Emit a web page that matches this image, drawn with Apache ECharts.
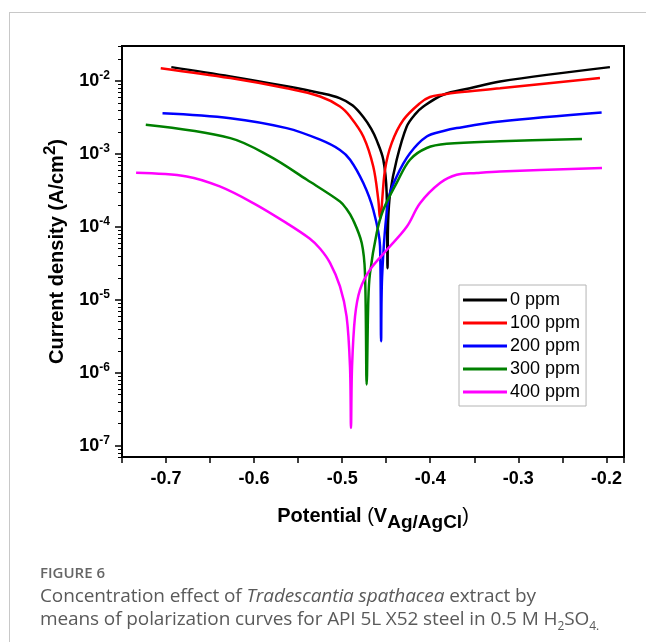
<!DOCTYPE html>
<html>
<head>
<meta charset="utf-8">
<script src="https://cdn.jsdelivr.net/npm/echarts@6/dist/echarts.min.js"></script>
<style>
  body { margin: 0; background: #fff; }
  #card { position: absolute; left: 9px; top: 12px; width: 660px; height: 660px;
          border-top: 1px solid #c8c8c8; border-left: 1px solid #c8c8c8; }
  #chart { position: absolute; left: 0; top: 0; width: 646px; height: 642px; }
  .cap { position: absolute; left: 40px; font-family: "Open Sans", sans-serif; color: #5a5a5a; }
  #fig { top: 562px; font-size: 15px; font-weight: 600; color: #666; }
  #txt { top: 584px; font-size: 19px; line-height: 23px; width: 610px; letter-spacing: -0.1px; }
</style>
</head>
<body>
<div id="card"></div>
<div id="chart"></div>
<div class="cap" id="fig">FIGURE 6</div>
<div class="cap" id="txt">Concentration effect of <i>Tradescantia spathacea</i> extract by<br>means of polarization curves for API 5L X52 steel in 0.5 M H<sub style="font-size:12px">2</sub>SO<sub style="font-size:12px">4.</sub></div>
<script>
// polarization curves: potential (V vs Ag/AgCl) and current density (A/cm2)
const names = ['0 ppm', '100 ppm', '200 ppm', '300 ppm', '400 ppm'];
const colors = ['#000000', '#ff0000', '#0000ff', '#008000', '#ff00ff'];

const e0 = [-0.694, -0.627, -0.563, -0.525, -0.503, -0.488, -0.476, -0.467, -0.461, -0.4533, -0.4495, -0.4485, -0.4478, -0.4455, -0.4381, -0.4267, -0.4170, -0.4078, -0.3852, -0.3549, -0.3208, -0.196];
const i0 = [1.54e-2, 1.15e-2, 8.4e-3, 6.8e-3, 5.8e-3, 4.6e-3, 3.2e-3, 2.2e-3, 1.55e-3, 8.3e-4, 2.9e-4, 2.7e-5, 1.2e-4, 2.9e-4, 8.3e-4, 2.37e-3, 3.5e-3, 4.45e-3, 6.45e-3, 7.9e-3, 9.8e-3, 1.54e-2];

const e100 = [-0.706, -0.627, -0.563, -0.525, -0.5025, -0.491, -0.476, -0.4647, -0.459, -0.457, -0.4514, -0.4438, -0.4306, -0.4116, -0.4003, -0.385, -0.37, -0.3208, -0.2073];
const i100 = [1.49e-2, 1.09e-2, 7.9e-3, 6.1e-3, 4.45e-3, 3.24e-3, 1.73e-3, 6.7e-4, 2.35e-4, 1.3e-4, 6.0e-4, 1.4e-3, 2.9e-3, 4.95e-3, 6.0e-3, 6.5e-3, 6.9e-3, 7.9e-3, 1.09e-2];

const e200 = [-0.704, -0.627, -0.563, -0.525, -0.5025, -0.491, -0.476, -0.4647, -0.457, -0.4558, -0.4547, -0.4476, -0.4381, -0.423, -0.404, -0.385, -0.37, -0.3208, -0.2054];
const i200 = [3.6e-3, 3.08e-3, 2.25e-3, 1.56e-3, 1.13e-3, 8.3e-4, 3.97e-4, 1.71e-4, 5.4e-5, 2.7e-6, 2.0e-5, 2.34e-4, 4.9e-4, 1.02e-3, 1.73e-3, 2.05e-3, 2.25e-3, 2.77e-3, 3.68e-3];

const e300 = [-0.723, -0.627, -0.582, -0.540, -0.5025, -0.495, -0.4877, -0.4778, -0.4741, -0.4722, -0.4703, -0.4684, -0.4608, -0.4533, -0.4381, -0.423, -0.404, -0.3813, -0.3208, -0.2277];
const i300 = [2.5e-3, 1.64e-3, 9.2e-4, 4.4e-4, 2.22e-4, 1.75e-4, 1.25e-4, 6.0e-5, 2.3e-5, 6.9e-7, 1.0e-5, 2.3e-5, 8.2e-5, 1.71e-4, 4.0e-4, 8.3e-4, 1.2e-3, 1.37e-3, 1.48e-3, 1.6e-3];

const e400 = [-0.734, -0.6765, -0.639, -0.601, -0.563, -0.537, -0.525, -0.5138, -0.5025, -0.495, -0.4911, -0.49, -0.4888, -0.4854, -0.4798, -0.4684, -0.4495, -0.4267, -0.4116, -0.3889, -0.37, -0.3473, -0.3208, -0.205];
const i400 = [5.5e-4, 4.9e-4, 3.57e-4, 2.11e-4, 1.12e-4, 6.9e-5, 5.0e-5, 3.2e-5, 1.52e-5, 5.9e-6, 1.2e-6, 1.75e-7, 1.2e-6, 5.9e-6, 1.37e-5, 2.58e-5, 4.8e-5, 1.0e-4, 2.1e-4, 3.97e-4, 5.15e-4, 5.45e-4, 5.73e-4, 6.4e-4];

const potentials = [e0, e100, e200, e300, e400];
const currents = [i0, i100, i200, i300, i400];

// y axis ticks
const majorTicks = [1e-7, 1e-6, 1e-5, 1e-4, 1e-3, 1e-2];
const minorTicks = [];
[-8, -7, -6, -5, -4, -3, -2].forEach(p => {
  for (let k = 2; k <= 9; k++) minorTicks.push(Number((k * Math.pow(10, p)).toPrecision(3)));
});

const chart = echarts.init(document.getElementById('chart'));
const font = '"Liberation Sans", Arial, sans-serif';

const option = {
  animation: false,
  grid: {
    left: 122, right: 22, top: 46, bottom: 185,
    show: true, borderColor: '#000', borderWidth: 2
  },
  legend: {
    orient: 'vertical',
    left: 459, top: 285,
    padding: [6, 6, 5, 4],
    icon: 'rect',
    itemWidth: 44, itemHeight: 3, itemGap: 5,
    borderColor: '#b4b4b4', borderWidth: 1,
    backgroundColor: '#fff',
    textStyle: { fontFamily: font, fontSize: 18, color: '#000', padding: [0, 0, 0, -2] },
    data: names
  },
  xAxis: {
    type: 'value',
    min: -0.75, max: -0.18, interval: 0.05,
    axisLine: { lineStyle: { color: '#000', width: 2 } },
    axisTick: { length: 6, lineStyle: { color: '#000', width: 1.5 } },
    splitLine: { show: false },
    axisLabel: {
      margin: 13,
      fontFamily: font, fontSize: 18, fontWeight: 'bold', color: '#000',
      formatter: v => {
        const k = Math.round(v * 100);
        return k % 10 === 0 ? (k / 100).toFixed(1) : '';
      }
    },
    name: '{n|Potential }{p|(}{n|V}{sub|Ag/AgCl}{p|)}',
    nameLocation: 'middle',
    nameGap: 43,
    nameTextStyle: {
      rich: {
        n: { fontFamily: font, fontSize: 20, fontWeight: 'bold', color: '#000' },
        p: { fontFamily: font, fontSize: 20, color: '#000' },
        sub: { fontFamily: font, fontSize: 19, fontWeight: 'bold', color: '#000', padding: [13, 0, 0, 0] }
      }
    }
  },
  yAxis: [{
    type: 'log', logBase: 10,
    min: 7e-8, max: 3e-2,
    axisLine: { show: true, lineStyle: { color: '#000', width: 2 } },
    axisTick: { show: true, length: 7, customValues: majorTicks, lineStyle: { color: '#000', width: 1.5 } },
    splitLine: { show: false },
    axisLabel: {
      margin: 12,
      customValues: majorTicks,
      formatter: v => '{b|10}{s|' + Math.round(Math.log10(v)) + '}',
      rich: {
        b: { fontFamily: font, fontSize: 18, fontWeight: 'bold', color: '#000' },
        s: { fontFamily: font, fontSize: 12, fontWeight: 'bold', color: '#000', padding: [0, 0, 11, 0] }
      }
    },
    name: '{n|Current density (A/cm}{s|2}{n|)}',
    nameLocation: 'middle',
    nameGap: 50,
    nameTextStyle: {
      rich: {
        n: { fontFamily: font, fontSize: 20, fontWeight: 'bold', color: '#000' },
        s: { fontFamily: font, fontSize: 17, fontWeight: 'bold', color: '#000', padding: [0, 0, 13, 0] }
      }
    }
  }, {
    type: 'log', logBase: 10,
    min: 7e-8, max: 3e-2,
    position: 'left',
    axisLine: { show: false },
    axisTick: { show: true, length: 4, customValues: minorTicks, lineStyle: { color: '#000', width: 1 } },
    axisLabel: { show: false },
    splitLine: { show: false }
  }],
  series: names.map((n, s) => ({
    name: n,
    type: 'line',
    yAxisIndex: 0,
    showSymbol: false,
    symbol: 'none',
    smooth: 0.35,
    lineStyle: { color: colors[s], width: 2.5 },
    itemStyle: { color: colors[s] },
    data: potentials[s].map((e, j) => [e, currents[s][j]])
  }))
};
chart.setOption(option);
</script>
</body>
</html>
